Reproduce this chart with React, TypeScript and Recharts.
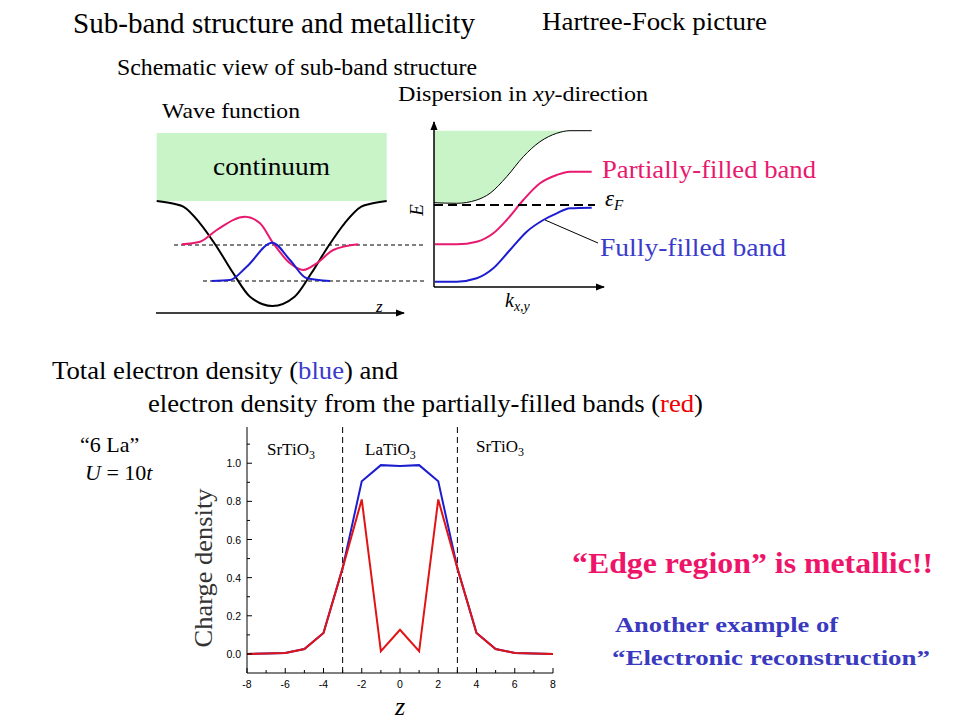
import React from "react";
import {
  ComposedChart,
  LineChart,
  Line,
  Area,
  XAxis,
  YAxis,
  ReferenceLine,
  ReferenceArea,
} from "recharts";

// charge density vs layer index z ("6 La", U = 10t)
const zLayers = [-8, -7, -6, -5, -4, -3, -2, -1, 0, 1, 2, 3, 4, 5, 6, 7, 8];
const totalDensity = [0, 0.002, 0.005, 0.026, 0.11, 0.45, 0.905, 0.99, 0.985, 0.99, 0.905, 0.45, 0.11, 0.026, 0.005, 0.002, 0];
const partialDensity = [0, 0.002, 0.005, 0.026, 0.11, 0.45, 0.81, 0.014, 0.127, 0.014, 0.81, 0.45, 0.11, 0.026, 0.005, 0.002, 0];
const densityTicks = [0, 0.1, 0.2, 0.3, 0.4, 0.5, 0.6, 0.7, 0.8, 0.9, 1.0, 1.1];
const interfaceZ = [-3, 3];

// wave function schematic (arbitrary units)
const wellZ = [0.67, 2.5, 3.33, 5.0, 6.67, 8.33, 10.0, 12.23, 14.46, 16.13, 17.8, 19.46, 21.13, 21.96, 23.67];
const wellV = [11.9, 11.6, 11.33, 9.67, 7.33, 4.67, 2.33, 1.4, 2.33, 4.67, 7.33, 9.67, 11.33, 11.6, 11.9];
const excitedZ = [3.17, 5.0, 6.67, 9.5, 11.0, 12.33, 14.0, 15.33, 16.67, 18.33, 20.83];
const excitedPsi = [7.57, 7.83, 9.0, 10.33, 9.67, 7.67, 5.67, 5.0, 5.67, 7.0, 7.57];
const groundZ = [6.17, 8.0, 9.67, 12.23, 14.0, 15.67, 18.0];
const groundPsi = [3.9, 4.0, 5.33, 7.73, 6.0, 4.17, 3.9];
const levelEnergy = [7.5, 3.9];
const levelStart = [2.4, 5.3];

// dispersion schematic (arbitrary units)
const edgeK = [0, 2.27, 4.27, 5.6, 7.27, 8.93, 10.6, 12.27, 13.6, 15.77];
const edgeE = [8.73, 8.67, 9.0, 9.67, 11.33, 13.33, 14.83, 15.67, 15.93, 15.93];
const partialK = [0.1, 2.27, 4.27, 5.93, 7.27, 8.93, 10.6, 12.27, 13.6, 15.77];
const partialE = [4.57, 4.57, 4.83, 5.67, 7.0, 9.0, 10.67, 11.5, 11.83, 11.83];
const fullK = [0.1, 2.27, 4.27, 5.93, 7.6, 9.27, 10.93, 12.27, 13.6, 15.77];
const fullE = [0.83, 0.83, 1.17, 2.17, 4.0, 5.83, 7.0, 7.67, 8.17, 8.23];
const continuumTop = 15.93;
const fermiEnergy = 8.5;

const densityRows = zLayers.map((z, i) => ({ z, total: totalDensity[i], partial: partialDensity[i] }));
const pts = (xs: number[], ys: number[]) => xs.map((x, i) => ({ x, y: ys[i] }));
const continuumRows = edgeK.slice(0, 9).map((x, i) => ({ x, range: [edgeE[i], continuumTop] }));

const SERIF = "Liberation Serif";
const SANS = "Liberation Sans";
const PINK = "#e8196e";
const BLUE = "#1c1cd0";
const TEXT_BLUE = "#3a3acc";

const T = (props: any) => <text fontFamily={SERIF} fill="#000" {...props} />;

const BottomTick = (p: any) => {
  const v = p.payload.value;
  const major = v % 2 === 0;
  return (
    <g>
      <line x1={p.x} y1={p.y} x2={p.x} y2={p.y - (major ? 5 : 3)} stroke="#000" />
      {major && (
        <text x={p.x} y={p.y + 15} textAnchor="middle" fontSize={10.5} fontFamily={SANS} fill="#000">
          {v}
        </text>
      )}
    </g>
  );
};
const TopTick = (p: any) => {
  const major = p.payload.value % 2 === 0;
  return <line x1={p.x} y1={p.y} x2={p.x} y2={p.y + (major ? 5 : 3)} stroke="#000" />;
};
const LeftTick = (p: any) => {
  const v = p.payload.value;
  const major = Math.round(v * 10) % 2 === 0 && v <= 1.0001;
  return (
    <g>
      <line x1={p.x} y1={p.y} x2={p.x + (major ? 5 : 3)} y2={p.y} stroke="#000" />
      {major && (
        <text x={p.x - 6} y={p.y + 4} textAnchor="end" fontSize={10.5} fontFamily={SANS} fill="#000">
          {v.toFixed(1)}
        </text>
      )}
    </g>
  );
};
const RightTick = (p: any) => {
  const v = p.payload.value;
  const major = Math.round(v * 10) % 2 === 0 && v <= 1.0001;
  return <line x1={p.x} y1={p.y} x2={p.x - (major ? 5 : 3)} y2={p.y} stroke="#000" />;
};

const abs = (left: number, top: number): React.CSSProperties => ({ position: "absolute", left, top });

export default function App() {
  return (
    <div style={{ position: "absolute", left: 0, top: 0, width: 960, height: 720, background: "#fff", overflow: "hidden" }}>
      {/* wave function schematic */}
      <div style={abs(150, 120)}>
        <LineChart width={280} height={200} margin={{ top: 0, right: 0, bottom: 0, left: 0 }}>
          <XAxis type="number" dataKey="x" domain={[0, 28]} hide />
          <YAxis type="number" domain={[0, 20]} hide />
          <ReferenceArea x1={0.67} x2={23.67} y1={11.9} y2={18.7} fill="#c8f4c8" fillOpacity={1} stroke="none" />
          {levelEnergy.map((e, i) => (
            <ReferenceLine
              key={i}
              segment={[{ x: levelStart[i], y: e }, { x: 27.5, y: e }]}
              stroke="#000"
              strokeDasharray="4 3"
            />
          ))}
          <Line data={pts(wellZ, wellV)} dataKey="y" type="monotone" stroke="#000" strokeWidth={2} dot={false} isAnimationActive={false} />
          <Line data={pts(excitedZ, excitedPsi)} dataKey="y" type="monotone" stroke={PINK} strokeWidth={2} dot={false} isAnimationActive={false} />
          <Line data={pts(groundZ, groundPsi)} dataKey="y" type="monotone" stroke={BLUE} strokeWidth={2} dot={false} isAnimationActive={false} />
        </LineChart>
      </div>

      {/* dispersion schematic */}
      <div style={abs(434, 110)}>
        <ComposedChart width={180} height={180} margin={{ top: 0, right: 0, bottom: 0, left: 0 }}>
          <XAxis type="number" dataKey="x" domain={[0, 18]} hide />
          <YAxis type="number" domain={[0, 18]} hide />
          <Area data={continuumRows} dataKey="range" type="monotone" fill="#c8f4c8" fillOpacity={1} stroke="none" isAnimationActive={false} />
          <Line data={pts(edgeK, edgeE)} dataKey="y" type="monotone" stroke="#000" strokeWidth={1} dot={false} isAnimationActive={false} />
          <Line data={pts(partialK, partialE)} dataKey="y" type="monotone" stroke={PINK} strokeWidth={2} dot={false} isAnimationActive={false} />
          <Line data={pts(fullK, fullE)} dataKey="y" type="monotone" stroke={BLUE} strokeWidth={2} dot={false} isAnimationActive={false} />
          <ReferenceLine
            segment={[{ x: 0, y: fermiEnergy }, { x: 16.1, y: fermiEnergy }]}
            stroke="#000"
            strokeWidth={2}
            strokeDasharray="9 5"
          />
        </ComposedChart>
      </div>

      {/* charge density chart */}
      <div style={abs(190, 420)}>
        <LineChart width={380} height={300} data={densityRows} margin={{ top: 7, right: 17, bottom: 27, left: 27 }}>
          <XAxis
            type="number"
            dataKey="z"
            domain={[-8, 8]}
            ticks={zLayers}
            interval={0}
            height={20}
            tickLine={false}
            tickSize={0}
            tickMargin={0}
            tick={BottomTick}
            axisLine={{ stroke: "#000" }}
          />
          <XAxis
            xAxisId="top"
            orientation="top"
            type="number"
            dataKey="z"
            domain={[-8, 8]}
            ticks={zLayers}
            interval={0}
            height={0}
            tickLine={false}
            tickSize={0}
            tickMargin={0}
            tick={TopTick}
            axisLine={{ stroke: "#000" }}
          />
          <YAxis
            type="number"
            domain={[-0.1, 1.19]}
            ticks={densityTicks}
            interval={0}
            width={30}
            tickLine={false}
            tickSize={0}
            tickMargin={0}
            tick={LeftTick}
            axisLine={{ stroke: "#000" }}
          />
          <YAxis
            yAxisId="r"
            orientation="right"
            type="number"
            domain={[-0.1, 1.19]}
            ticks={densityTicks}
            interval={0}
            width={0}
            tickLine={false}
            tickSize={0}
            tickMargin={0}
            tick={RightTick}
            axisLine={{ stroke: "#000" }}
          />
          {interfaceZ.map((z) => (
            <ReferenceLine key={z} x={z} stroke="#000" strokeDasharray="6 4" />
          ))}
          <Line dataKey="total" type="linear" stroke={BLUE} strokeWidth={2} dot={false} isAnimationActive={false} />
          <Line dataKey="partial" type="linear" stroke="#e01414" strokeWidth={2} dot={false} isAnimationActive={false} />
        </LineChart>
      </div>

      {/* texts and arrows */}
      <svg width={960} height={720} style={{ position: "absolute", left: 0, top: 0, pointerEvents: "none" }}>
        <defs>
          <marker id="arr" viewBox="0 0 10 10" refX="9" refY="5" markerWidth="9" markerHeight="9" markerUnits="userSpaceOnUse" orient="auto">
            <path d="M0,1 L10,5 L0,9 z" fill="#000" />
          </marker>
        </defs>
        <line x1={156} y1={313} x2={404} y2={313} stroke="#000" strokeWidth={1.5} markerEnd="url(#arr)" />
        <line x1={434} y1={287} x2={434} y2={122} stroke="#000" strokeWidth={1.5} markerEnd="url(#arr)" />
        <line x1={434} y1={287} x2={604} y2={287} stroke="#000" strokeWidth={1.5} markerEnd="url(#arr)" />
        <line x1={545} y1={220} x2={598} y2={243} stroke="#000" strokeWidth={1} />

        <T x={73} y={33} fontSize={29} textLength={402} lengthAdjust="spacingAndGlyphs">Sub-band structure and metallicity</T>
        <T x={542} y={30} fontSize={25} textLength={225} lengthAdjust="spacingAndGlyphs">Hartree-Fock picture</T>
        <T x={117} y={75} fontSize={23} textLength={360} lengthAdjust="spacingAndGlyphs">Schematic view of sub-band structure</T>
        <T x={162} y={118} fontSize={22} textLength={138} lengthAdjust="spacingAndGlyphs">Wave function</T>
        <T x={398} y={101} fontSize={21} textLength={250} lengthAdjust="spacingAndGlyphs">
          Dispersion in <tspan fontStyle="italic">xy</tspan>-direction
        </T>
        <T x={213} y={175} fontSize={26} textLength={117} lengthAdjust="spacingAndGlyphs">continuum</T>
        <T x={376} y={312} fontSize={17} fontStyle="italic">z</T>

        <T x={602} y={178} fontSize={26} fill={PINK} textLength={214} lengthAdjust="spacingAndGlyphs">Partially-filled band</T>
        <T x={605} y={206} fontSize={23} fontStyle="italic">
          ε<tspan fontSize={15} dy={4}>F</tspan>
        </T>
        <T x={600} y={256} fontSize={26} fill={TEXT_BLUE} textLength={186} lengthAdjust="spacingAndGlyphs">Fully-filled band</T>
        <T transform="translate(423,210) rotate(-90)" textAnchor="middle" fontSize={19} fontStyle="italic">E</T>
        <T x={505} y={307} fontSize={20} fontStyle="italic">
          k<tspan fontSize={14} dy={4}>x,y</tspan>
        </T>

        <T x={52} y={379} fontSize={25} textLength={346} lengthAdjust="spacingAndGlyphs">
          Total electron density (<tspan fill={TEXT_BLUE}>blue</tspan>) and
        </T>
        <T x={148} y={412} fontSize={25} textLength={555} lengthAdjust="spacingAndGlyphs">
          electron density from the partially-filled bands (<tspan fill="#ee0000">red</tspan>)
        </T>
        <T x={80} y={452} fontSize={22}>“6 La”</T>
        <T x={85} y={480} fontSize={22}>
          <tspan fontStyle="italic">U</tspan> = 10<tspan fontStyle="italic">t</tspan>
        </T>

        <T x={267} y={455} fontSize={17}>
          SrTiO<tspan fontSize={12} dy={4}>3</tspan>
        </T>
        <T x={365} y={455} fontSize={17}>
          LaTiO<tspan fontSize={12} dy={4}>3</tspan>
        </T>
        <T x={476} y={452} fontSize={17}>
          SrTiO<tspan fontSize={12} dy={4}>3</tspan>
        </T>
        <T transform="translate(212,568) rotate(-90)" textAnchor="middle" fontSize={25} fill="#333" textLength={159} lengthAdjust="spacingAndGlyphs">
          Charge density
        </T>
        <T x={400} y={715} textAnchor="middle" fontSize={26} fontStyle="italic">z</T>

        <T x={572} y={573} fontSize={30} fontWeight="bold" fill="#ee1469" textLength={361} lengthAdjust="spacingAndGlyphs">
          “Edge region” is metallic!!
        </T>
        <T x={615} y={632} fontSize={22} fontWeight="bold" fill="#3a3ac0" textLength={223} lengthAdjust="spacingAndGlyphs">
          Another example of
        </T>
        <T x={612} y={665} fontSize={22} fontWeight="bold" fill="#3a3ac0" textLength={318} lengthAdjust="spacingAndGlyphs">
          “Electronic reconstruction”
        </T>
      </svg>
    </div>
  );
}
